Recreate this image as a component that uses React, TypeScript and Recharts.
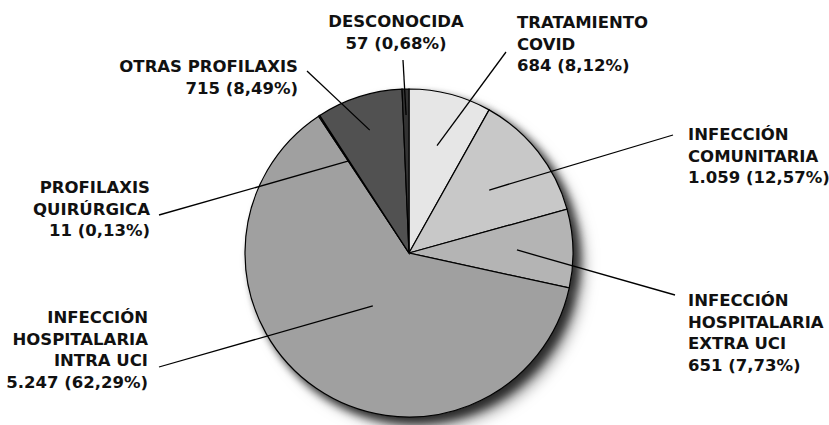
import React from 'react';
import { PieChart, Pie, Cell } from 'recharts';

const categories = [
  'TRATAMIENTO COVID',
  'INFECCIÓN COMUNITARIA',
  'INFECCIÓN HOSPITALARIA EXTRA UCI',
  'INFECCIÓN HOSPITALARIA INTRA UCI',
  'PROFILAXIS QUIRÚRGICA',
  'OTRAS PROFILAXIS',
  'DESCONOCIDA',
];

const categoryLines = [
  ['TRATAMIENTO', 'COVID'],
  ['INFECCIÓN', 'COMUNITARIA'],
  ['INFECCIÓN', 'HOSPITALARIA', 'EXTRA UCI'],
  ['INFECCIÓN', 'HOSPITALARIA', 'INTRA UCI'],
  ['PROFILAXIS', 'QUIRÚRGICA'],
  ['OTRAS PROFILAXIS'],
  ['DESCONOCIDA'],
];

const values = [684, 1059, 651, 5247, 11, 715, 57];

const colors = ['#e6e6e6', '#c8c8c8', '#b4b4b4', '#a0a0a0', '#a8a8a8', '#515151', '#333333'];

// label placement relative to the pie centre
const labelLayout = [
  { r: 111, ex: 97, ey: -201, tx: 108, ty: -225, anchor: 'start' },
  { r: 102, ex: 264, ey: -118, tx: 279, ty: -113, anchor: 'start' },
  { r: 108, ex: 266, ey: 42, tx: 279, ty: 53, anchor: 'start' },
  { r: 64, ex: -250, ey: 114, tx: -261, ty: 70, anchor: 'end' },
  { r: 110, ex: -250, ey: -38, tx: -259, ty: -60, anchor: 'end' },
  { r: 129, ex: -102, ey: -182, tx: -111, ty: -181, anchor: 'end' },
  { r: 138, ex: -6, ey: -193, tx: -13, ty: -226, anchor: 'middle' },
];

const data = categories.map((name, i) => ({ name, value: values[i] }));

const fmtInt = (n: number) => n.toString().replace(/\B(?=(\d{3})+(?!\d))/g, '.');
const fmtPct = (p: number) => (p * 100).toFixed(2).replace('.', ',') + '%';

const RAD = Math.PI / 180;
const LINE_H = 21.6;

const renderLabel = (props: any) => {
  const { cx, cy, midAngle, index, percent, value } = props;
  const l = labelLayout[index];
  const sx = cx + l.r * Math.cos(-midAngle * RAD);
  const sy = cy + l.r * Math.sin(-midAngle * RAD);
  const lines = [...categoryLines[index], `${fmtInt(value)} (${fmtPct(percent)})`];
  return (
    <g>
      <line x1={sx} y1={sy} x2={cx + l.ex} y2={cy + l.ey} stroke="#000" strokeWidth={1.3} />
      <text
        x={cx + l.tx}
        y={cy + l.ty}
        textAnchor={l.anchor}
        fontFamily="'DejaVu Sans', sans-serif"
        fontWeight={700}
        fontSize={16.5}
        fill="#111"
      >
        {lines.map((t, k) => (
          <tspan key={k} x={cx + l.tx} y={cy + l.ty + k * LINE_H}>
            {t}
          </tspan>
        ))}
      </text>
    </g>
  );
};

const App: React.FC = () => {
  return (
    <div style={{ position: 'absolute', left: 0, top: 0, background: '#fff' }}>
      <style>{`.pie-shadow { filter: drop-shadow(6px 6px 5px rgba(0,0,0,0.6)); }`}</style>
      <PieChart width={829} height={425}>
        <Pie
          className="pie-shadow"
          data={data}
          dataKey="value"
          cx={404}
          cy={248}
          outerRadius={164}
          startAngle={90}
          endAngle={-270}
          stroke="none"
          fill="#a0a0a0"
          label={false}
          labelLine={false}
          isAnimationActive={false}
        />
        <Pie
          data={data}
          dataKey="value"
          cx={404}
          cy={248}
          outerRadius={164}
          startAngle={90}
          endAngle={-270}
          stroke="#000"
          strokeWidth={1.2}
          label={renderLabel}
          labelLine={false}
          isAnimationActive={false}
        >
          {data.map((d, i) => (
            <Cell key={d.name} fill={colors[i]} />
          ))}
        </Pie>
      </PieChart>
    </div>
  );
};

export default App;
